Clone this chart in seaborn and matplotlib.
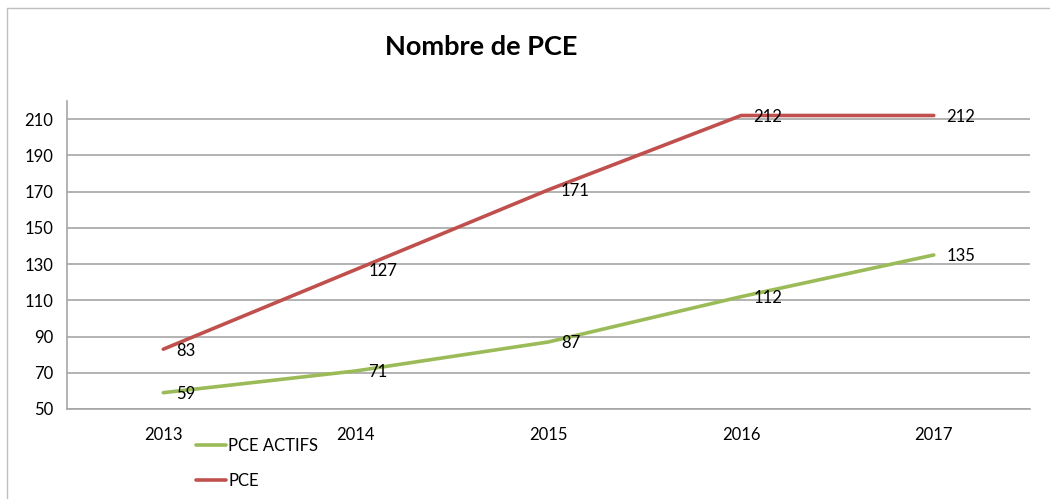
import pandas as pd
import seaborn as sns
import matplotlib.pyplot as plt
from matplotlib.lines import Line2D

# data
years = ["2013", "2014", "2015", "2016", "2017"]
pce_actifs = [59, 71, 87, 112, 135]
pce = [83, 127, 171, 212, 212]
series_names = ["PCE ACTIFS", "PCE"]
colors = ["#9BBB59", "#C0504D"]
yticks = [50, 70, 90, 110, 130, 150, 170, 190, 210]

df = pd.DataFrame({
    "year": years * 2,
    "value": pce_actifs + pce,
    "serie": [series_names[0]] * len(years) + [series_names[1]] * len(years),
})

sns.set_style("white")
plt.rcParams["font.family"] = ["Lato", "DejaVu Sans"]
plt.rcParams["text.color"] = "black"
plt.rcParams["xtick.color"] = "black"
plt.rcParams["ytick.color"] = "black"

fig = plt.figure(figsize=(10.5, 4.99), dpi=100)
ax = fig.add_axes([0.0638, 0.1804, 0.9172, 0.6172])

sns.lineplot(data=df, x="year", y="value", hue="serie", hue_order=series_names,
             palette=colors, linewidth=2.6, ax=ax, legend=False)

# data labels
for vals in [pce_actifs, pce]:
    for i, v in enumerate(vals):
        ax.annotate(str(v), (i, v), xytext=(9, -1), textcoords="offset points",
                    ha="left", va="center", fontsize=12, color="black")

ax.set_xlim(-0.5, 4.5)
ax.set_ylim(50, 220)
ax.set_yticks(yticks)
ax.set_xlabel("")
ax.set_ylabel("")
ax.tick_params(axis="both", length=0, labelsize=12, pad=10)
ax.tick_params(axis="x", pad=13)
ax.grid(axis="y", color="#A6A6A6", linewidth=1.2)
ax.set_axisbelow(True)
for side in ["top", "right"]:
    ax.spines[side].set_visible(False)
for side in ["left", "bottom"]:
    ax.spines[side].set_color("#A6A6A6")
    ax.spines[side].set_linewidth(1.2)

fig.text(0.458, 0.905, "Nombre de PCE", ha="center", va="center",
         fontsize=19.5, fontweight="bold")

handles = [Line2D([], [], color=c, linewidth=2.6) for c in colors]
fig.legend(handles, series_names, loc="upper left", bbox_to_anchor=(0.187, 0.122),
           frameon=False, fontsize=12, handlelength=1.75, handletextpad=0.15,
           labelspacing=1.15, borderpad=0, borderaxespad=0)

# spreadsheet frame
fig.add_artist(Line2D([0.0067, 0.0067], [0, 0.984], color="#BFBFBF", linewidth=1))
fig.add_artist(Line2D([0.0067, 1], [0.984, 0.984], color="#BFBFBF", linewidth=1))

fig.savefig("out.png", dpi=100)
